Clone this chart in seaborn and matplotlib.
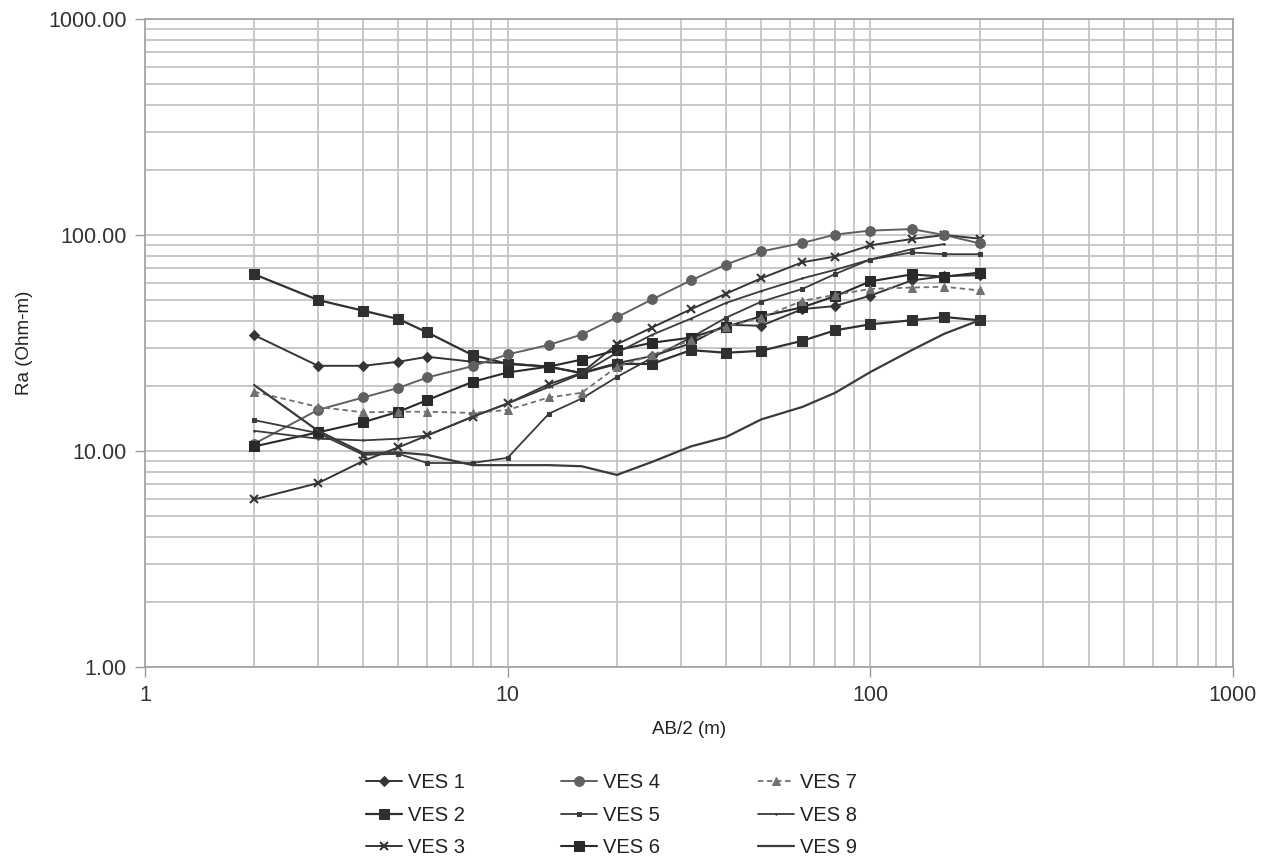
import seaborn as sns
import pandas as pd
import matplotlib.pyplot as plt
import numpy as np
from matplotlib.ticker import FixedLocator, FuncFormatter, NullFormatter

# AB/2 spacing (m) and apparent resistivity (Ohm-m)
ab2 = [2, 3, 4, 5, 6, 8, 10, 13, 16, 20, 25, 32, 40, 50, 65, 80, 100, 130, 160, 200]

ves1 = [34.4, 24.8, 24.8, 25.9, 27.3, 25.9, 25.5, 24.5, 23.0, 25.5, 27.5, 31.5, 38.4, 38.0, 45.4, 46.9, 52.4, 61.6, 64.5, 65.2]
ves2 = [65.8, 50.0, 44.6, 40.8, 35.4, 27.8, 25.3, 24.6, 22.9, 25.3, 25.3, 29.3, 28.5, 29.1, 32.4, 36.2, 38.6, 40.3, 41.7, 40.3]
ves3 = [5.97, 7.1, 9.0, 10.4, 11.8, 14.4, 16.6, 20.4, 23.0, 31.2, 37.3, 45.3, 53.5, 63.0, 74.8, 79.5, 89.6, 95.8, 100.0, 96.2]
ves4 = [10.8, 15.5, 17.7, 19.6, 21.9, 24.7, 28.0, 31.0, 34.6, 41.6, 50.3, 61.6, 73.0, 83.9, 91.9, 100.5, 104.8, 106.5, 100.0, 91.5]
ves5 = [13.9, 12.1, 9.6, 9.7, 8.8, 8.8, 9.3, 14.9, 17.5, 22.0, 27.0, 33.5, 41.4, 49.1, 56.3, 66.0, 77.0, 83.0, 81.5, 81.5]
ves6 = [10.5, 12.2, 13.6, 15.2, 17.2, 20.9, 23.1, 24.6, 26.5, 29.3, 31.7, 33.5, 37.6, 42.0, 46.3, 52.1, 61.0, 65.7, 64.1, 67.0]
ves7 = [18.8, 16.0, 15.1, 15.2, 15.2, 15.0, 15.5, 17.7, 18.6, 24.5, 27.8, 32.6, 37.6, 41.4, 49.6, 52.8, 56.3, 57.1, 57.6, 55.4]
ves8 = [12.4, 11.4, 11.2, 11.4, 11.8, 14.4, 16.6, 19.8, 22.8, 28.5, 34.5, 41.0, 48.5, 55.0, 63.0, 69.0, 77.0, 86.0, 90.8, np.nan]
ves9 = [20.2, 12.4, 9.8, 9.85, 9.6, 8.6, 8.6, 8.6, 8.5, 7.75, 8.9, 10.5, 11.6, 14.0, 16.0, 18.6, 23.2, 29.3, 34.9, 40.3]

names = ['VES 1', 'VES 2', 'VES 3', 'VES 4', 'VES 5', 'VES 6', 'VES 7', 'VES 8', 'VES 9']
series = [ves1, ves2, ves3, ves4, ves5, ves6, ves7, ves8, ves9]

styles = {
    'VES 1': dict(color='#353535', marker='D', markersize=5, linestyle='-', lw=1.4),
    'VES 2': dict(color='#303030', marker='s', markersize=7, linestyle='-', lw=1.6),
    'VES 3': dict(color='#353535', marker='x', markersize=5.5, mew=1.5, linestyle='-', lw=1.4),
    'VES 4': dict(color='#606060', marker='o', markersize=7, linestyle='-', lw=1.4),
    'VES 5': dict(color='#3a3a3a', marker='s', markersize=3.5, linestyle='-', lw=1.3),
    'VES 6': dict(color='#2a2a2a', marker='s', markersize=7, linestyle='-', lw=1.5),
    'VES 7': dict(color='#707070', marker='^', markersize=6, linestyle=(0, (3, 2)), lw=1.3),
    'VES 8': dict(color='#3a3a3a', marker='.', markersize=2, linestyle='-', lw=1.3),
    'VES 9': dict(color='#3a3a3a', marker='', linestyle='-', lw=1.6),
}

sns.set_theme(style='white')
plt.rcParams['font.family'] = ['Liberation Sans', 'DejaVu Sans']

fig = plt.figure(figsize=(12.7, 8.59), dpi=100)
ax = fig.add_axes([145 / 1270, 1 - 667 / 859, 1088 / 1270, 648 / 859])

for name, vals in zip(names, series):
    st = styles[name]
    sns.lineplot(x=ab2, y=vals, ax=ax, label=name, legend=False,
                 estimator=None, sort=False, mec=st['color'], mfc=st['color'], **st)

ax.set_xscale('log')
ax.set_yscale('log')
ax.set_xlim(1, 1000)
ax.set_ylim(1, 1000)

ax.grid(which='both', color='#c4c4c4', lw=1.3)
ax.set_axisbelow(True)
ax.xaxis.set_major_locator(FixedLocator([1, 10, 100, 1000]))
ax.yaxis.set_major_locator(FixedLocator([1, 10, 100, 1000]))
ax.xaxis.set_major_formatter(FuncFormatter(lambda v, p: f'{v:g}'))
ax.yaxis.set_major_formatter(FuncFormatter(lambda v, p: f'{v:.2f}'))
ax.xaxis.set_minor_formatter(NullFormatter())
ax.yaxis.set_minor_formatter(NullFormatter())
ax.tick_params(which='major', labelsize=15.5, colors='#333333', length=7, width=1,
               color='#999999', direction='out', left=True, bottom=True, pad=6)
ax.tick_params(which='minor', length=0)
for s in ax.spines.values():
    s.set_color('#a0a0a0')
    s.set_linewidth(1.2)

ax.set_xlabel('AB/2 (m)', fontsize=13.5, color='#222222')
ax.set_ylabel('Ra (Ohm-m)', fontsize=13.5, color='#222222')
ax.xaxis.set_label_coords(0.5, -0.084)
ax.yaxis.set_label_coords(-0.103, 0.5)

# legend split into three columns placed like the original
handles, labels = ax.get_legend_handles_labels()
col_x = [366 / 1270, 561 / 1270, 758 / 1270]
for i, x0 in enumerate(col_x):
    leg = fig.legend(handles[i * 3:i * 3 + 3], labels[i * 3:i * 3 + 3],
                     loc='upper left', bbox_to_anchor=(x0, 1 - 773 / 859),
                     frameon=False, fontsize=14.5, handlelength=1.8,
                     handletextpad=0.3, borderpad=0, borderaxespad=0,
                     labelspacing=0.68)
    for t in leg.get_texts():
        t.set_color('#222222')

fig.savefig('out.png', dpi=100, facecolor='white')
